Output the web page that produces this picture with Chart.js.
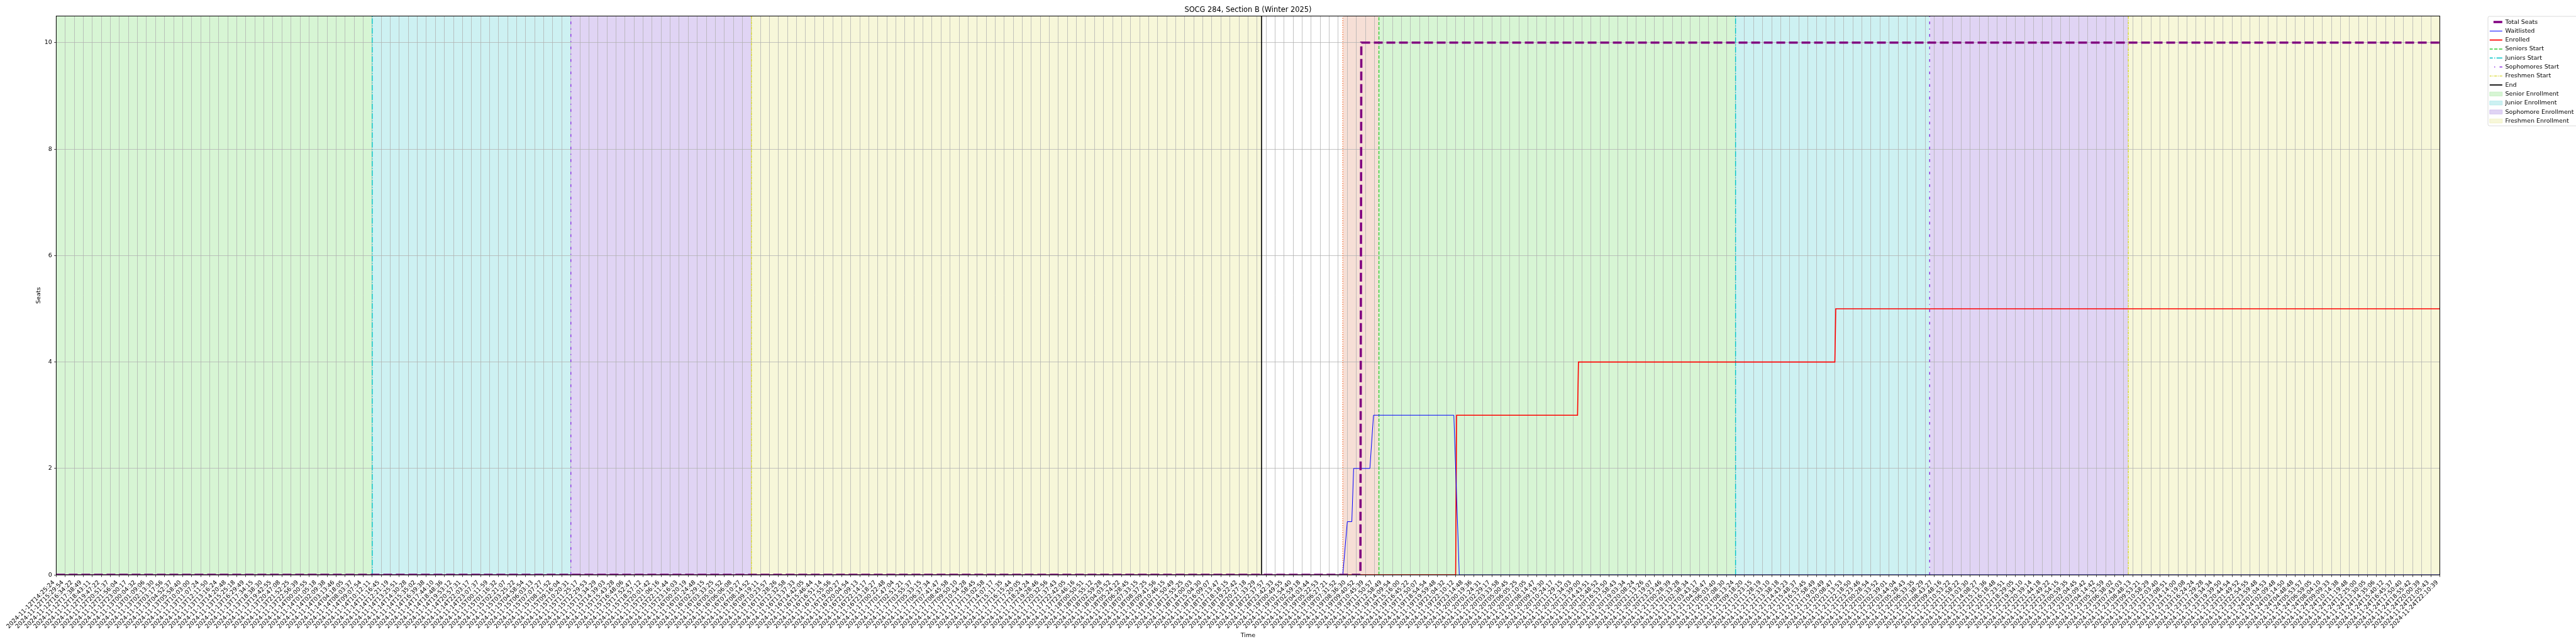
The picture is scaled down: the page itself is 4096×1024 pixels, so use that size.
<!DOCTYPE html>
<html>
<head>
<meta charset="utf-8">
<title>SOCG 284, Section B (Winter 2025)</title>
<script src="https://cdn.jsdelivr.net/npm/chart.js@4.4.1/dist/chart.umd.min.js"></script>
<style>
  html, body { margin: 0; padding: 0; background: #ffffff; overflow: hidden; }
  #chart { display: block; }
</style>
</head>
<body>
<canvas id="chart" width="4096" height="1024"></canvas>
<script>
// ---------------- data ----------------
const chartTitle = 'SOCG 284, Section B (Winter 2025)';
const xTickLabels = [
'2024-11-12T14:25:24','2024-11-12T15:29:54','2024-11-12T16:34:22','2024-11-12T17:38:49','2024-11-12T18:43:11','2024-11-12T19:47:22','2024-11-12T20:51:37','2024-11-12T21:56:04','2024-11-12T23:00:17',
'2024-11-13T00:04:32','2024-11-13T01:09:06','2024-11-13T02:13:30','2024-11-13T03:17:56','2024-11-13T04:52:37','2024-11-13T05:58:40','2024-11-13T10:03:00','2024-11-13T11:07:24','2024-11-13T12:11:50','2024-11-13T13:16:24','2024-11-13T14:20:48','2024-11-13T15:25:18','2024-11-13T16:29:49','2024-11-13T17:34:15','2024-11-13T18:38:30','2024-11-13T19:42:55','2024-11-13T20:47:08','2024-11-13T21:52:25','2024-11-13T22:56:39',
'2024-11-14T00:00:55','2024-11-14T01:05:18','2024-11-14T02:09:38','2024-11-14T03:13:46','2024-11-14T04:18:05','2024-11-14T08:03:37','2024-11-14T09:07:54','2024-11-14T10:12:11','2024-11-14T11:16:45','2024-11-14T12:21:19','2024-11-14T13:25:51','2024-11-14T14:30:28','2024-11-14T15:35:02','2024-11-14T16:39:38','2024-11-14T17:44:10','2024-11-14T18:48:36','2024-11-14T19:53:12','2024-11-14T20:57:31','2024-11-14T22:03:17','2024-11-14T23:07:37',
'2024-11-15T00:11:59','2024-11-15T01:16:32','2024-11-15T02:21:07','2024-11-15T03:25:22','2024-11-15T04:58:54','2024-11-15T06:03:13','2024-11-15T07:07:27','2024-11-15T08:11:52','2024-11-15T09:16:04','2024-11-15T10:20:31','2024-11-15T11:25:17','2024-11-15T12:29:53','2024-11-15T13:34:29','2024-11-15T14:39:03','2024-11-15T15:43:28','2024-11-15T16:48:06','2024-11-15T17:52:47','2024-11-15T18:57:12','2024-11-15T20:01:42','2024-11-15T21:06:16','2024-11-15T22:11:44','2024-11-15T23:16:03',
'2024-11-16T00:20:19','2024-11-16T01:24:48','2024-11-16T02:29:15','2024-11-16T03:33:25','2024-11-16T05:01:52','2024-11-16T06:06:08','2024-11-16T07:10:27','2024-11-16T08:14:52','2024-11-16T09:19:11','2024-11-16T10:23:57','2024-11-16T11:28:26','2024-11-16T12:32:58','2024-11-16T13:37:33','2024-11-16T14:42:05','2024-11-16T15:46:44','2024-11-16T16:51:14','2024-11-16T17:55:56','2024-11-16T19:00:27','2024-11-16T20:04:54','2024-11-16T21:09:13','2024-11-16T22:14:17','2024-11-16T23:18:27',
'2024-11-17T00:22:48','2024-11-17T01:47:04','2024-11-17T02:51:21','2024-11-17T03:55:37','2024-11-17T05:33:15','2024-11-17T06:37:34','2024-11-17T07:41:47','2024-11-17T08:45:58','2024-11-17T09:50:10','2024-11-17T10:54:28','2024-11-17T11:58:45','2024-11-17T13:02:58','2024-11-17T14:07:17','2024-11-17T15:11:35','2024-11-17T16:15:44','2024-11-17T17:20:05','2024-11-17T18:24:24','2024-11-17T19:28:46','2024-11-17T20:32:56','2024-11-17T21:37:43','2024-11-17T22:42:05','2024-11-17T23:46:16',
'2024-11-18T00:50:51','2024-11-18T01:55:12','2024-11-18T02:59:28','2024-11-18T04:03:52','2024-11-18T05:24:22','2024-11-18T06:28:45','2024-11-18T07:33:15','2024-11-18T08:37:25','2024-11-18T09:41:56','2024-11-18T10:46:15','2024-11-18T11:50:49','2024-11-18T12:55:25','2024-11-18T14:00:03','2024-11-18T15:04:30','2024-11-18T16:09:07','2024-11-18T17:13:47','2024-11-18T18:18:15','2024-11-18T19:22:42','2024-11-18T20:27:18','2024-11-18T21:33:29','2024-11-18T22:37:57','2024-11-18T23:42:33',
'2024-11-19T00:49:55','2024-11-19T01:54:40','2024-11-19T02:59:18','2024-11-19T04:03:44','2024-11-19T05:22:53','2024-11-19T06:27:21','2024-11-19T07:31:52','2024-11-19T08:36:30','2024-11-19T09:40:52','2024-11-19T10:45:39','2024-11-19T11:50:57','2024-11-19T12:58:49','2024-11-19T14:09:54','2024-11-19T15:16:00','2024-11-19T16:45:22','2024-11-19T17:50:07','2024-11-19T18:54:54','2024-11-19T19:59:48','2024-11-19T21:04:32','2024-11-19T22:10:12','2024-11-19T23:14:48',
'2024-11-20T00:19:36','2024-11-20T01:24:31','2024-11-20T02:29:17','2024-11-20T03:33:58','2024-11-20T05:00:45','2024-11-20T06:05:25','2024-11-20T07:10:05','2024-11-20T08:14:47','2024-11-20T09:19:30','2024-11-20T10:24:17','2024-11-20T11:29:15','2024-11-20T12:34:03','2024-11-20T13:39:00','2024-11-20T14:43:51','2024-11-20T15:48:52','2024-11-20T16:53:50','2024-11-20T17:58:43','2024-11-20T19:03:34','2024-11-20T20:08:24','2024-11-20T21:13:26','2024-11-20T22:19:07','2024-11-20T23:23:46',
'2024-11-21T00:28:39','2024-11-21T01:33:28','2024-11-21T02:38:34','2024-11-21T03:43:17','2024-11-21T04:58:47','2024-11-21T06:03:40','2024-11-21T07:08:30','2024-11-21T08:13:24','2024-11-21T09:18:20','2024-11-21T10:23:15','2024-11-21T11:28:19','2024-11-21T12:33:10','2024-11-21T13:38:18','2024-11-21T14:43:23','2024-11-21T15:48:37','2024-11-21T16:53:45','2024-11-21T17:58:49','2024-11-21T19:03:49','2024-11-21T20:08:47','2024-11-21T21:13:53','2024-11-21T22:18:50','2024-11-21T23:23:46',
'2024-11-22T00:28:54','2024-11-22T01:33:52','2024-11-22T02:39:01','2024-11-22T03:44:04','2024-11-22T05:28:43','2024-11-22T06:33:35','2024-11-22T07:38:29','2024-11-22T08:43:27','2024-11-22T09:48:16','2024-11-22T10:53:22','2024-11-22T11:58:22','2024-11-22T13:03:30','2024-11-22T14:08:27','2024-11-22T15:13:36','2024-11-22T16:18:48','2024-11-22T17:23:51','2024-11-22T18:29:05','2024-11-22T19:34:10','2024-11-22T20:39:14','2024-11-22T21:44:18','2024-11-22T22:49:22','2024-11-22T23:54:15',
'2024-11-23T00:59:35','2024-11-23T02:04:45','2024-11-23T03:09:42','2024-11-23T04:14:42','2024-11-23T05:32:59','2024-11-23T06:38:02','2024-11-23T07:43:03','2024-11-23T08:48:13','2024-11-23T09:53:21','2024-11-23T10:58:29','2024-11-23T12:03:40','2024-11-23T13:08:51','2024-11-23T14:14:00','2024-11-23T15:19:08','2024-11-23T16:24:24','2024-11-23T17:29:28','2024-11-23T18:34:34','2024-11-23T19:39:50','2024-11-23T20:44:54','2024-11-23T21:49:52','2024-11-23T22:54:55','2024-11-23T23:59:48',
'2024-11-24T01:04:53','2024-11-24T02:09:48','2024-11-24T03:14:50','2024-11-24T04:48:48','2024-11-24T05:53:57','2024-11-24T06:59:05','2024-11-24T08:04:10','2024-11-24T09:09:33','2024-11-24T10:14:38','2024-11-24T11:19:48','2024-11-24T12:25:00','2024-11-24T13:30:05','2024-11-24T14:35:06','2024-11-24T15:40:12','2024-11-24T16:45:37','2024-11-24T17:50:40','2024-11-24T18:55:42','2024-11-24T20:00:39','2024-11-24T21:05:43','2024-11-24T22:10:39'
];
const yTickValues = [0, 2, 4, 6, 8, 10];
const yAxisMax = 10.5;

// x values are positions along the tick sequence (tick index units)
const totalSeatsX = [0, 144.45, 144.55, 264];
const totalSeatsY = [0, 0, 10, 10];
const waitlistedX = [0, 142.5, 143.0, 143.5, 143.7, 145.5, 145.9, 154.8, 155.4, 264];
const waitlistedY = [0, 0, 1, 1, 2, 2, 3, 3, 0, 0];
const enrolledX = [0, 155.0, 155.1, 168.5, 168.6, 197.0, 197.1, 264];
const enrolledY = [0, 0, 3, 3, 4, 4, 5, 5];

const seniorsStartX = [146.5];
const juniorsStartX = [35.0, 186.0];
const sophomoresStartX = [57.0, 207.5];
const freshmenStartX = [77.0, 229.5];
const endX = [133.5];
const markerX = [142.5];

const seniorSpans = [[0, 35.0], [146.5, 186.0]];
const juniorSpans = [[35.0, 57.0], [186.0, 207.5]];
const sophomoreSpans = [[57.0, 77.0], [207.5, 229.5]];
const freshmenSpans = [[77.0, 133.5], [229.5, 264]];
const markerSpans = [[142.5, 146.5]];

// ---------------- layout / style ----------------
const W = 4096, H = 1024;
const AREA = { left: 89.4, right: 3879.6, top: 25.5, bottom: 914.1 };
const LEGEND_SAMPLE_W = 20;

Chart.defaults.font.family = "'DejaVu Sans', sans-serif";
Chart.defaults.color = '#000';

const toPoints = (xs, ys) => xs.map((x, i) => ({ x, y: ys[i] }));
const vLines = (xs) => xs.flatMap((x, i) => (i ? [{ x, y: null }] : []).concat([{ x, y: 0 }, { x, y: yAxisMax }]));
const spanFill = (spans) => spans.flatMap(([a, b], i) => (i ? [{ x: a, y: null }] : []).concat([{ x: a, y: yAxisMax }, { x: b, y: yAxisMax }]));

function lineDs(label, data, color, width, dash, order) {
  return { label, data, xAxisID: 'x', yAxisID: 'y', borderColor: color, backgroundColor: color,
    borderWidth: width, borderDash: dash, borderCapStyle: 'butt', pointRadius: 0, pointHoverRadius: 0,
    fill: false, tension: 0, order, legendKind: 'line' };
}
function spanDs(label, spans, color, edge, order) {
  return { label, data: spanFill(spans), xAxisID: 'x', yAxisID: 'y', borderColor: 'rgba(0,0,0,0)', backgroundColor: color,
    borderWidth: 0, pointRadius: 0, pointHoverRadius: 0, fill: 'start', tension: 0, order, legendKind: 'patch', legendEdge: edge };
}

const datasets = [
  lineDs('Total Seats', toPoints(totalSeatsX, totalSeatsY), '#800080', 3.6, [14, 6], 0),
  lineDs('Waitlisted', toPoints(waitlistedX, waitlistedY), '#0000ff', 1.0, [], 1),
  lineDs('Enrolled', toPoints(enrolledX, enrolledY), '#ff0000', 1.6, [], 2),
  lineDs('Seniors Start', vLines(seniorsStartX), '#32cd32', 1.4, [5.3, 2.3], 3),
  lineDs('Juniors Start', vLines(juniorsStartX), '#00c5c8', 1.4, [9.1, 2.3, 1.4, 2.3], 4),
  lineDs('Sophomores Start', vLines(sophomoresStartX), '#8a2be2', 1.4, [4.3, 7.1, 1.4, 7.1], 5),
  lineDs('Freshmen Start', vLines(freshmenStartX), '#d8d830', 1.4, [4.3, 1.4, 1.4, 1.4], 6),
  lineDs('End', vLines(endX), '#000000', 1.6, [], 7),
  spanDs('Senior Enrollment', seniorSpans, '#d7f5d4', '#bfeebc', 8),
  spanDs('Junior Enrollment', juniorSpans, '#cdf1f2', '#b0e8ea', 9),
  spanDs('Sophomore Enrollment', sophomoreSpans, '#e0d4f4', '#cbb7ee', 10),
  spanDs('Freshmen Enrollment', freshmenSpans, '#f7f7d9', '#ededbb', 11),
  lineDs('_marker', vLines(markerX), '#f26b30', 1.4, [1.4, 2.3], 12),
  spanDs('_markerSpan', markerSpans, '#f6dfd6', '#f6dfd6', 13)
];

function legendDashOffset(dash) {
  if (!dash || !dash.length) return 0;
  const P = dash.reduce((a, b) => a + b, 0);
  return (((dash[0] - LEGEND_SAMPLE_W) % P) + P) % P;
}

const framePlugin = {
  id: 'frames',
  afterDatasetsDraw(chart) {
    const { ctx, chartArea: a } = chart;
    ctx.save();
    ctx.strokeStyle = '#000';
    ctx.lineWidth = 1;
    ctx.strokeRect(a.left, a.top, a.right - a.left, a.bottom - a.top);
    ctx.restore();
  },
  afterDraw(chart) {
    const lg = chart.legend;
    if (!lg || !lg.legendHitBoxes || !lg.legendHitBoxes.length) return;
    const hb = lg.legendHitBoxes;
    const last = hb[hb.length - 1];
    const x0 = lg.left + 2, y0 = lg.top + 0.5, x1 = chart.width + 6, y1 = last.top + last.height + 3;
    const ctx = chart.ctx;
    ctx.save();
    ctx.strokeStyle = '#d0d0d0';
    ctx.lineWidth = 0.8;
    ctx.beginPath();
    ctx.roundRect(x0, y0, x1 - x0, y1 - y0, 2.5);
    ctx.stroke();
    ctx.restore();
  }
};

const gridOpts = { color: '#b0b0b0', lineWidth: 0.76, tickColor: '#000', tickWidth: 0.76, tickLength: 3.3, drawTicks: true };

new Chart(document.getElementById('chart'), {
  type: 'line',
  data: { datasets },
  plugins: [framePlugin],
  options: {
    responsive: false,
    maintainAspectRatio: false,
    animation: false,
    devicePixelRatio: 1,
    events: [],
    layout: { padding: 0 },
    plugins: {
      filler: { drawTime: 'beforeDraw', propagate: false },
      tooltip: { enabled: false },
      title: {
        display: true, text: chartTitle, color: '#000', fullSize: false,
        font: { size: 11.4, weight: 'normal' }, padding: { top: 9.06, bottom: 2.76 }
      },
      legend: {
        display: true, position: 'right', align: 'start', fullSize: false, maxWidth: 142,
        labels: {
          usePointStyle: true, pointStyleWidth: LEGEND_SAMPLE_W, boxWidth: LEGEND_SAMPLE_W, boxHeight: 6.4,
          padding: 4.8, color: '#000', font: { size: 9.5 },
          generateLabels: (chart) => chart.data.datasets.map((ds, i) => {
            const patch = ds.legendKind === 'patch';
            return {
              text: ds.label,
              datasetIndex: i,
              hidden: false,
              fontColor: '#000',
              rotation: 0,
              pointStyle: patch ? 'rect' : 'line',
              fillStyle: patch ? ds.backgroundColor : 'rgba(0,0,0,0)',
              strokeStyle: patch ? ds.legendEdge : ds.borderColor,
              lineWidth: patch ? 0.7 : ds.borderWidth,
              lineDash: patch ? [] : (ds.borderDash || []),
              lineDashOffset: patch ? 0 : legendDashOffset(ds.borderDash),
              lineCap: 'butt'
            };
          }).filter(it => !it.text.startsWith('_'))
        }
      }
    },
    scales: {
      x: {
        type: 'linear', position: 'bottom', min: 0, max: xTickLabels.length - 1, bounds: 'data',
        afterBuildTicks: (s) => { s.ticks = xTickLabels.map((_, i) => ({ value: i })); },
        afterFit: (s) => { s.height = H - AREA.bottom; },
        ticks: {
          autoSkip: false, maxRotation: 45, minRotation: 45, padding: 3.2, labelOffset: -3.9,
          color: '#000', font: { size: 9.5 },
          callback: (v) => xTickLabels[Math.round(v)] ?? ''
        },
        grid: gridOpts,
        border: { display: false },
        title: { display: true, text: 'Time', color: '#000', font: { size: 9.5 }, padding: { top: 0, bottom: 7.3 } }
      },
      y: {
        type: 'linear', position: 'left', min: 0, max: yAxisMax, bounds: 'data',
        afterBuildTicks: (s) => { s.ticks = yTickValues.map(v => ({ value: v })); },
        afterFit: (s) => { s.width = AREA.left; },
        ticks: { padding: 3.3, color: '#000', font: { size: 9.5 }, callback: (v) => String(v) },
        grid: gridOpts,
        border: { display: false },
        title: { display: true, text: 'Seats', color: '#000', font: { size: 9.5 }, padding: { top: 55.6, bottom: 0 } }
      },
      ySpacer: {
        type: 'linear', position: 'right', display: true,
        afterFit: (s) => { s.width = 3954.2 - AREA.right; },
        grid: { display: false, drawTicks: false },
        ticks: { display: false },
        border: { display: false },
        title: { display: false }
      }
    }
  }
});
</script>
</body>
</html>
